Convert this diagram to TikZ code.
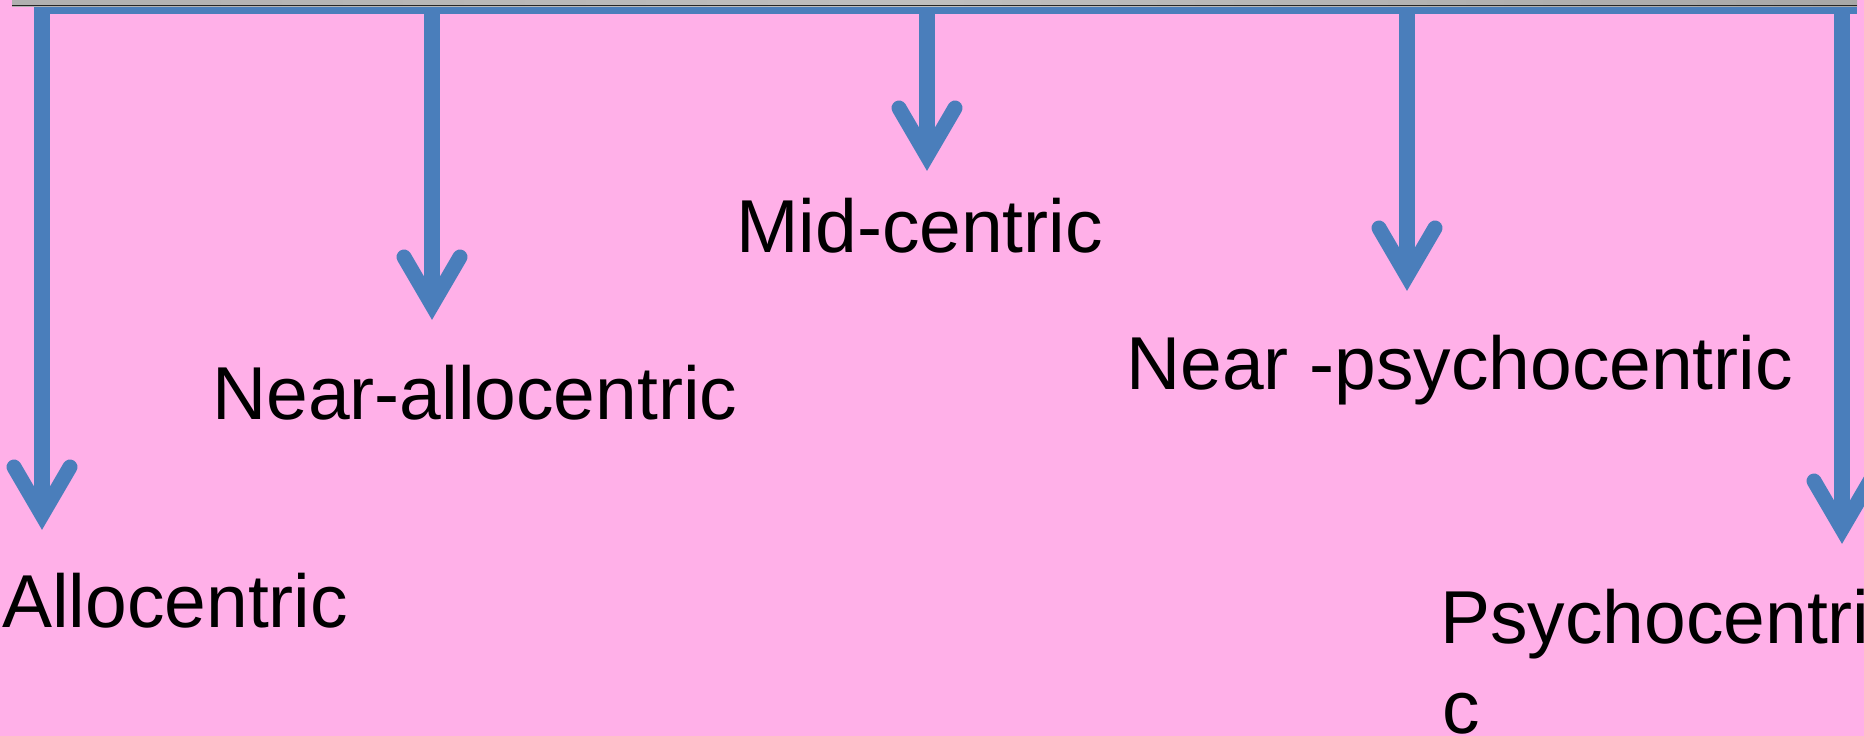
\documentclass[tikz,border=0pt]{standalone}
\usepackage{fontspec}
\setmainfont{Liberation Sans}
\definecolor{bgpink}{HTML}{FFB0E8}
\definecolor{arrowblue}{HTML}{4A7EBB}
\pgfdeclarehorizontalshading{barshade}{100bp}{
  color(0bp)=(black);
  color(3bp)=(black!75);
  color(8bp)=(black!35);
  color(50bp)=(black!25);
  color(90bp)=(black!40);
  color(100bp)=(black!85)}
\tikzset{
  stem/.style={draw=arrowblue, line width=15.5pt, line cap=butt},
  headv/.style={draw=arrowblue, line width=15pt, line cap=round, line join=miter},
  lbl/.style={inner sep=0pt, anchor=base west, text=black,
    font=\fontsize{75}{90}\selectfont}
}
\begin{document}
\begin{tikzpicture}[x=1pt, y=-1pt]
\useasboundingbox (0,0) rectangle (1864,736);
\fill[bgpink] (0,0) rectangle (1864,736);
% horizontal bar
\coordinate (barL) at (34,6.5);
\coordinate (barR) at (1857,6.5);
\draw[stem] (barL) -- (barR);
% arrows
\foreach \n/\x/\v in {1/42/515, 2/432/305, 3/927/156, 4/1407/276, 5/1842/529}{
  \coordinate (top\n) at (\x,6.5);
  \coordinate (v\n) at (\x,\v);
  \draw[stem] (top\n) -- (v\n);
  \draw[headv] ([shift={(-28,-48)}]v\n) -- (v\n) -- ([shift={(28,-48)}]v\n);
}
% gray top bar
\shade[shading=barshade] (12,0) rectangle (1857,6);
\draw[black!85, line width=1.5pt] (12,5.5) -- (1857,5.5);
% labels
\node[lbl] (allo) at (2,627) {Allocentric};
\node[lbl] (nearallo) at (212,419) {Near-allocentric};
\node[lbl] (mid) at (736,252) {Mid-centric};
\node[lbl] (nearpsy) at (1126,389) {Near -psychocentric};
\node[lbl] (psy1) at (1440,643) {Psychocentri};
\node[lbl] (psy2) at (1442,733) {c};
\end{tikzpicture}
\end{document}
